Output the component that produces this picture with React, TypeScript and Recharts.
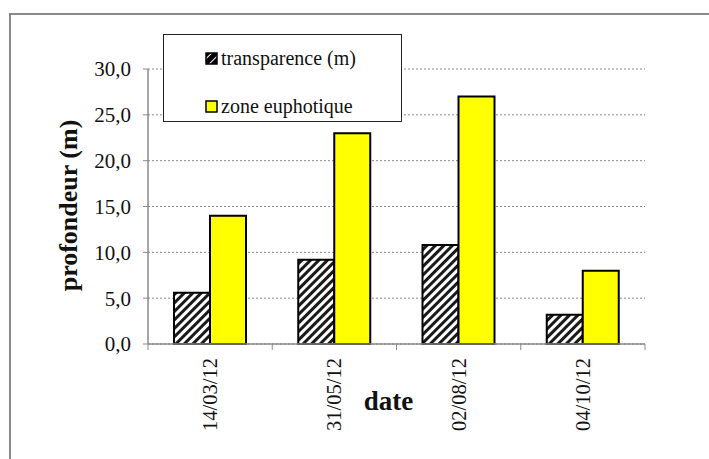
import React from "react";
import {
  BarChart,
  Bar,
  XAxis,
  YAxis,
  CartesianGrid,
  Legend,
} from "recharts";

const dates = ["14/03/12", "31/05/12", "02/08/12", "04/10/12"];
const transparence = [5.6, 9.2, 10.8, 3.2];
const zoneEuphotique = [14, 23, 27, 8];
const yTicks = [0, 5, 10, 15, 20, 25, 30];

const seriesNames = ["transparence (m)", "zone euphotique"];

const data = dates.map((d, i) => ({
  date: d,
  transparence: transparence[i],
  euphotique: zoneEuphotique[i],
}));

const FONT = "Liberation Serif";
const GREY = "#8a8a8a";

const fmt = (v: number) => v.toFixed(1).replace(".", ",");

// tick marks sit between categories, labels are rotated at the centre
const DateTick = (props: any) => {
  const { x, y, payload, index } = props;
  const half = payload?.offset ?? 62;
  return (
    <g>
      <line x1={x - half} y1={y} x2={x - half} y2={y + 6} stroke={GREY} />
      {index === dates.length - 1 && (
        <line x1={x + half} y1={y} x2={x + half} y2={y + 6} stroke={GREY} />
      )}
      <text
        transform={`translate(${x},${y + 14}) rotate(-90)`}
        textAnchor="end"
        dominantBaseline="central"
        style={{ fontFamily: FONT, fontSize: 20.5 }}
        fill="#111"
      >
        {payload.value}
      </text>
    </g>
  );
};

const LegendBox = () => (
  <div
    style={{
      position: "relative",
      width: 237,
      height: 86,
      border: "1px solid #222",
      background: "#fff",
      color: "#111",
    }}
  >
    {seriesNames.map((name, i) => (
      <div
        key={name}
        style={{
          position: "absolute",
          left: 41,
          top: i === 0 ? 11 : 59,
          height: 24,
          display: "flex",
          alignItems: "center",
          whiteSpace: "nowrap",
        }}
      >
        <svg width={13} height={13} style={{ marginRight: 3 }}>
          <rect
            x={1}
            y={1}
            width={11}
            height={11}
            fill={i === 0 ? "url(#hatchLegend)" : "#ffff00"}
            stroke="#000"
            strokeWidth={1.5}
          />
        </svg>
        <span style={{ fontFamily: FONT, fontSize: 20, lineHeight: "24px" }}>
          {name}
        </span>
      </div>
    ))}
  </div>
);

export default function App() {
  return (
    <div
      style={{
        position: "absolute",
        left: 0,
        top: 0,
        width: 709,
        height: 459,
        background: "#fff",
        overflow: "hidden",
      }}
    >
      <div
        style={{
          position: "absolute",
          left: 9,
          top: 13,
          width: 720,
          height: 460,
          borderTop: `2px solid ${GREY}`,
          borderLeft: `2px solid ${GREY}`,
        }}
      />
      <div style={{ position: "absolute", left: 0, top: 0 }}>
        <BarChart
          width={709}
          height={459}
          data={data}
          margin={{ top: 69, right: 64, bottom: 0, left: 88 }}
          barGap={0}
          barSize={36}
        >
          <defs>
            <pattern
              id="hatch"
              width="6"
              height="6"
              patternUnits="userSpaceOnUse"
              patternTransform="rotate(45)"
            >
              <rect width="6" height="6" fill="#fff" />
              <rect width="3" height="6" fill="#1a1a1a" />
            </pattern>
            <pattern
              id="hatchLegend"
              width="6"
              height="6"
              patternUnits="userSpaceOnUse"
              patternTransform="rotate(45)"
            >
              <rect width="6" height="6" fill="#fff" />
              <rect width="5" height="6" fill="#000" />
            </pattern>
          </defs>
          <CartesianGrid
            vertical={false}
            stroke={GREY}
            strokeDasharray="2 2"
          />
          <XAxis
            dataKey="date"
            axisLine={{ stroke: GREY, strokeWidth: 1.5 }}
            tickLine={false}
            tickSize={0}
            tickMargin={0}
            interval={0}
            height={115}
            tick={<DateTick />}
            label={({ viewBox }: any) => (
              <text
                x={viewBox.x + viewBox.width / 2 - 8}
                y={viewBox.y + 66}
                textAnchor="middle"
                style={{ fontFamily: FONT, fontSize: 27, fontWeight: "bold" }}
                fill="#111"
              >
                date
              </text>
            )}
          />
          <XAxis
            xAxisId="top"
            orientation="top"
            dataKey="date"
            height={0}
            tick={false}
            tickLine={false}
            axisLine={{ stroke: GREY, strokeWidth: 1.5 }}
          />
          <YAxis
            domain={[0, 30]}
            ticks={yTicks}
            width={60}
            interval={0}
            tickFormatter={fmt}
            axisLine={{ stroke: GREY, strokeWidth: 1.5 }}
            tickLine={{ stroke: GREY }}
            tickSize={5}
            tickMargin={12}
            tick={{ fontSize: 21, fill: "#111", style: { fontFamily: FONT } }}
            label={({ viewBox }: any) => (
              <text
                transform={`translate(${viewBox.x - 20},${
                  viewBox.y + viewBox.height / 2 - 1
                }) rotate(-90)`}
                textAnchor="middle"
                dominantBaseline="central"
                style={{ fontFamily: FONT, fontSize: 26, fontWeight: "bold" }}
                fill="#111"
              >
                profondeur (m)
              </text>
            )}
          />
          <YAxis
            yAxisId="right"
            orientation="right"
            domain={[0, 30]}
            width={0}
            tick={false}
            tickLine={false}
            axisLine={{ stroke: GREY, strokeWidth: 1.5 }}
          />
          <Legend
            layout="vertical"
            align="center"
            verticalAlign="middle"
            content={() => <LegendBox />}
            wrapperStyle={{ left: 163, top: 34, width: 239, height: 88 }}
          />
          <Bar
            dataKey="transparence"
            name={seriesNames[0]}
            fill="url(#hatch)"
            stroke="#000"
            strokeWidth={2}
            isAnimationActive={false}
          />
          <Bar
            dataKey="euphotique"
            name={seriesNames[1]}
            fill="#ffff00"
            stroke="#000"
            strokeWidth={2}
            isAnimationActive={false}
          />
        </BarChart>
      </div>
    </div>
  );
}
